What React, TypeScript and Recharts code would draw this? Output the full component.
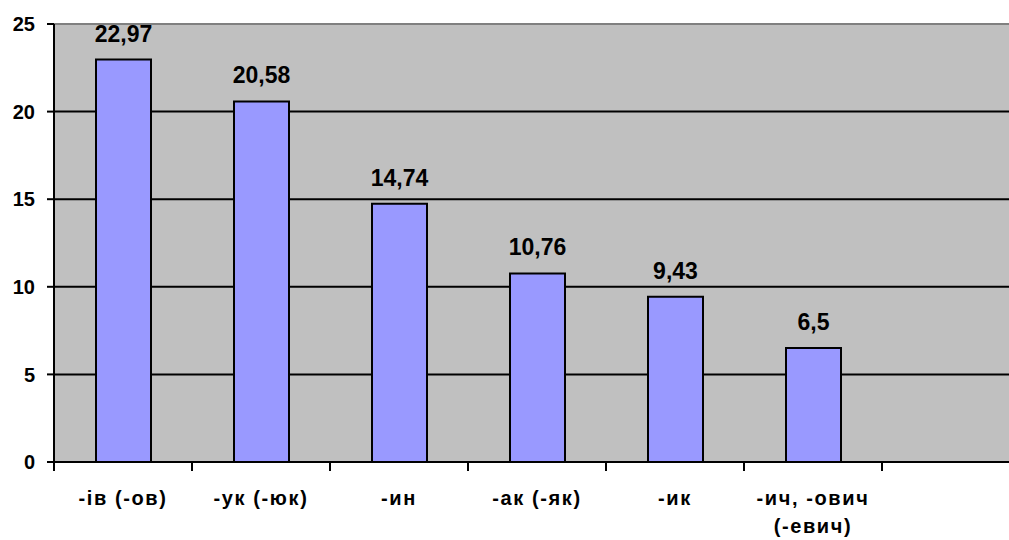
import React from 'react';
import { BarChart, Bar, XAxis, YAxis, CartesianGrid, LabelList, ReferenceLine } from 'recharts';

// suffixes and their share, %; the last slot is empty in the original chart
const suffixes = ['-ів (-ов)', '-ук (-юк)', '-ин', '-ак (-як)', '-ик', '-ич, -ович (-евич)', ''];
const shares: (number | null)[] = [22.97, 20.58, 14.74, 10.76, 9.43, 6.5, null];
const yTicks = [0, 5, 10, 15, 20, 25];

const data = suffixes.map((name, i) => ({ name, value: shares[i] }));

const fmt = (v: any) => (v == null ? '' : String(v).replace('.', ','));

const font = '"Liberation Sans", Arial, sans-serif';

const SuffixTick = (props: any) => {
  const { x, y, payload, index } = props;
  const half = payload.offset || 69;
  const text: string = payload.value || '';
  // long label wraps before the bracket, like the original
  const cut = text.indexOf(' (');
  const lines = text.length > 12 && cut > 0 ? [text.slice(0, cut), text.slice(cut + 1)] : [text];
  return (
    <g>
      {index === 0 && <line x1={x - half} x2={x - half} y1={y - 9} y2={y + 1} stroke="#000" strokeWidth={2} />}
      <line x1={x + half} x2={x + half} y1={y - 9} y2={y + 1} stroke="#000" strokeWidth={2} />
      <text x={x} y={y + 35} textAnchor="middle" fontFamily={font} fontWeight="bold" fontSize={20} letterSpacing={1.6} fill="#000">
        {lines.map((l, i) => (
          <tspan key={i} x={x} dy={i === 0 ? 0 : 28}>{l}</tspan>
        ))}
      </text>
    </g>
  );
};

export default function App() {
  return (
    <div style={{ position: 'absolute', left: 0, top: 0, width: 1009, height: 540, overflow: 'hidden', background: '#fff' }}>
      <BarChart width={1030} height={540} data={data} margin={{ top: 24, right: 10, bottom: 0, left: 0 }} barSize={55}>
        <CartesianGrid vertical={false} fill="#C0C0C0" stroke="#000" strokeWidth={2} fillOpacity={1} />
        <XAxis
          dataKey="name"
          height={78}
          interval={0}
          tickLine={false}
          axisLine={{ stroke: '#000', strokeWidth: 2 }}
          tick={<SuffixTick />}
        />
        <YAxis
          domain={[0, 25]}
          ticks={yTicks}
          width={54}
          tickSize={7}
          tickMargin={12}
          axisLine={{ stroke: '#000', strokeWidth: 2 }}
          tickLine={{ stroke: '#000', strokeWidth: 2 }}
          tick={{ fill: '#000', fontSize: 20, fontWeight: 'bold', fontFamily: font }}
        />
        <ReferenceLine y={25} stroke="#808080" strokeWidth={2} />
        <Bar dataKey="value" fill="#9999FF" stroke="#000" strokeWidth={2} isAnimationActive={false}>
          <LabelList
            dataKey="value"
            position="top"
            offset={18}
            formatter={fmt}
            style={{ fill: '#000', fontSize: 23, fontWeight: 'bold', fontFamily: font }}
          />
        </Bar>
      </BarChart>
    </div>
  );
}
